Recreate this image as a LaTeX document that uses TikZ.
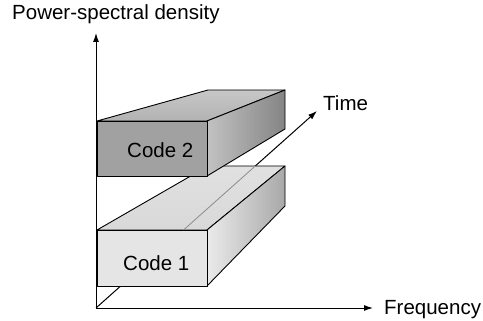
\documentclass[tikz,border=0pt]{standalone}
\usepackage{fontspec}
\setmainfont{Liberation Sans}
\usetikzlibrary{arrows.meta}
\begin{document}
\begin{tikzpicture}[x=1pt,y=-1pt,
  axis/.style={line width=1pt, -{Latex[length=9pt,width=6pt]}},
  edge/.style={line width=0.9pt, line join=round},
  lbl/.style={font=\fontsize{20.5}{24}\selectfont, inner sep=0pt, anchor=base west}]
\useasboundingbox (0,0) rectangle (483,321);
% axes
\coordinate (O) at (96,308);
\coordinate (Ytip) at (96,33);
\coordinate (Xtip) at (373,308);
\coordinate (Ttip) at (317,111);
\draw[axis] (O) -- (Ytip);
\draw[axis] (O) -- (Xtip);
\draw[axis] (O) -- (Ttip);
% Code 1 box
\coordinate (A1) at (97,230);
\coordinate (B1) at (207,230);
\coordinate (C1) at (207,286);
\coordinate (D1) at (97,286);
\coordinate (E1) at (208,166);
\coordinate (F1) at (285,166);
\coordinate (G1) at (285,206);
\draw[edge, top color=white!88!black, bottom color=white!85!black] (A1) -- (B1) -- (F1) -- (E1) -- cycle;
\draw[edge, left color=white!92!black, right color=white!66!black] (B1) -- (F1) -- (G1) -- (C1) -- cycle;
\draw[edge, fill=white!90!black] (A1) rectangle (C1);
\draw[line width=0.8pt, black!45] (intersection of O--Ttip and A1--B1) -- (intersection of O--Ttip and E1--F1);
% Code 2 box
\coordinate (A2) at (97,121);
\coordinate (B2) at (207,121);
\coordinate (C2) at (207,176);
\coordinate (D2) at (97,176);
\coordinate (E2) at (208,90);
\coordinate (F2) at (285,90);
\coordinate (G2) at (285,129);
\draw[edge, top color=white!78!black, bottom color=white!70!black] (A2) -- (B2) -- (F2) -- (E2) -- cycle;
\draw[edge, left color=white!76!black, right color=white!52!black] (B2) -- (F2) -- (G2) -- (C2) -- cycle;
\draw[edge, fill=white!63!black] (A2) rectangle (C2);
% labels
\node[lbl] (psd) at (12,20) {Power-spectral density};
\node[lbl] (time) at (323,111) {Time};
\node[lbl] (freq) at (384,315) {Frequency};
\node[lbl] (code2) at (127,158) {Code 2};
\node[lbl] (code1) at (123,270) {Code 1};
\end{tikzpicture}
\end{document}
